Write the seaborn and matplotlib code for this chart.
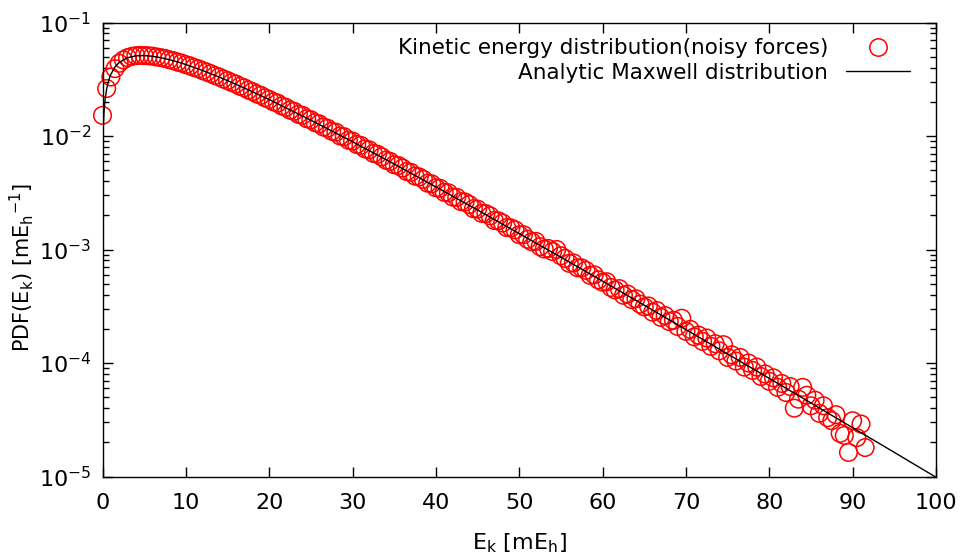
import matplotlib
matplotlib.use("Agg")
import matplotlib.pyplot as plt
import numpy as np
import pandas as pd
import seaborn as sns
from matplotlib.lines import Line2D
from matplotlib.ticker import LogLocator, MultipleLocator, NullFormatter

# histogram of kinetic energies (bin centres every 0.5 mE_h)
energy = np.arange(184) * 0.5
pdf = [
    0.0152, 0.0262, 0.0331, 0.0392, 0.0437, 0.0468, 0.0490, 0.0503, 0.0510, 0.0513,
    0.0511, 0.0509, 0.0505, 0.0497, 0.0490, 0.0482, 0.0470, 0.0461, 0.0448, 0.0439,
    0.0425, 0.0415, 0.0401, 0.0391, 0.0377, 0.0366, 0.0354, 0.0341, 0.0331, 0.0318,
    0.0308, 0.0296, 0.0287, 0.0274, 0.0266, 0.0254, 0.0246, 0.0235, 0.0228, 0.0217,
    0.0210,
    0.0200, 0.0195, 0.0184, 0.0179, 0.0169, 0.0165, 0.0155, 0.0152, 0.0142, 0.0139,
    0.0131, 0.0128, 0.0120, 0.0117, 0.0110, 0.0108, 0.0100, 0.00985, 0.00918, 0.00902,
    0.00842, 0.00826, 0.00770, 0.00754, 0.00702, 0.00690, 0.00655, 0.00612, 0.00598, 0.00558,
    0.00549, 0.00522, 0.00486, 0.00478, 0.00443, 0.00436, 0.00415, 0.00384, 0.00379, 0.00350,
    0.00346, 0.00319, 0.00316, 0.00290, 0.00288, 0.00264, 0.00262, 0.00249, 0.00229, 0.00227,
    0.00208, 0.00207, 0.00198, 0.00180, 0.00179, 0.00171, 0.00156, 0.00155, 0.00149, 0.00135,
    0.00135, 0.00123, 0.00117, 0.00118, 0.00106, 0.00101, 0.00102, 0.000960, 0.00100, 0.000880,
    0.000835, 0.000755, 0.000762, 0.000690, 0.000688, 0.000655, 0.000592, 0.000598, 0.000540, 0.000515,
    0.000520, 0.000463, 0.000440, 0.000452, 0.000395, 0.000405, 0.000362, 0.000368, 0.000330, 0.000312,
    0.000318, 0.000280, 0.000290, 0.000252, 0.000262, 0.000232, 0.000238, 0.000210, 0.000248, 0.000190,
    0.000198, 0.000170, 0.000176, 0.000155, 0.000166, 0.000140, 0.000148, 0.000128, 0.000145, 0.000112,
    0.000118, 0.000104, 0.000112, 0.0000920, 0.000100, 0.0000860, 0.0000920, 0.0000760, 0.0000800, 0.0000690,
    0.0000740, 0.0000610, 0.0000660, 0.0000550, 0.0000620, 0.0000400, 0.0000480, 0.0000610, 0.0000520, 0.0000420,
    0.0000470, 0.0000360, 0.0000420, 0.0000330, 0.0000310, 0.0000350, 0.0000240, 0.0000230, 0.0000163, 0.0000310,
    0.0000220, 0.0000290, 0.0000180,
]

# analytic Maxwell curve, sampled from the plot
maxwell_e = [1e-8, 1e-7, 1e-5, 0.001, 0.01, 0.05, 0.1, 0.2, 0.3, 0.5, 0.75, 1, 1.5, 2, 3, 4,
             5, 6, 7, 8, 9, 10, 12, 14, 16, 18, 20, 25, 30, 35, 40, 45, 50, 55, 60,
             65, 70, 75, 80, 85, 90, 95, 100]
maxwell_pdf = [3.9e-6, 1.228e-5, 1.228e-4, 0.001228, 0.00388, 0.00864, 0.01215, 0.01701,
               0.02061, 0.0260, 0.03107, 0.03494, 0.04059, 0.04445, 0.04897, 0.05087,
               0.05116, 0.05041, 0.04898, 0.04711, 0.04495, 0.04263, 0.03779, 0.03303,
               0.02858, 0.02453, 0.02092, 0.01378, 0.00890, 0.00566, 0.00356, 0.00223,
               0.00138, 0.000855, 0.000526, 0.000323, 0.000197, 0.000120, 0.0000732,
               0.0000444, 0.0000269, 0.00001631, 0.00000985]

hist_df = pd.DataFrame({"E": energy, "pdf": pdf})
curve_df = pd.DataFrame({"E": maxwell_e, "pdf": maxwell_pdf})

sns.set_style("ticks")
plt.rcParams["font.family"] = ["DejaVu Sans"]
plt.rcParams["mathtext.fontset"] = "dejavusans"
plt.rcParams["text.color"] = "black"
plt.rcParams["axes.labelcolor"] = "black"
plt.rcParams["xtick.color"] = "black"
plt.rcParams["ytick.color"] = "black"

fig = plt.figure(figsize=(9.62, 5.56), dpi=100)
ax = fig.add_axes([102.5 / 962, 1 - 476.5 / 556, 833.5 / 962, 454 / 556])

sns.scatterplot(data=hist_df, x="E", y="pdf", ax=ax, marker="o", s=160,
                facecolor="none", edgecolor="#ff0000", linewidth=1.1, zorder=2,
                clip_on=False)
sns.lineplot(data=curve_df, x="E", y="pdf", ax=ax, color="black", linewidth=1.0,
             sort=False, estimator=None, zorder=3)

ax.set_yscale("log")
ax.set_xlim(0, 100)
ax.set_ylim(1e-5, 1e-1)
ax.xaxis.set_major_locator(MultipleLocator(10))
ax.yaxis.set_major_locator(LogLocator(base=10, numticks=10))
ax.yaxis.set_minor_locator(LogLocator(base=10, subs=np.arange(2, 10), numticks=10))
ax.yaxis.set_minor_formatter(NullFormatter())
ax.tick_params(which="both", direction="in", top=True, right=True, labelsize=16,
               color="black", width=1.0)
ax.tick_params(which="major", length=7)
ax.tick_params(which="minor", length=4)
ax.tick_params(axis="x", which="major", pad=12)
ax.tick_params(axis="y", which="major", pad=8)
for sp in ax.spines.values():
    sp.set_linewidth(1.0)
    sp.set_color("black")

ax.set_xlabel(r"E$_\mathrm{k}$ [mE$_\mathrm{h}$]", fontsize=16, labelpad=13)
ax.set_ylabel(r"PDF(E$_\mathrm{k}$) [mE$_\mathrm{h}$$^\mathrm{-1}$]", fontsize=15, labelpad=9)
ax.yaxis.set_label_coords(-0.08, 0.46)

handles = [
    Line2D([], [], linestyle="none", marker="o", markersize=12.5, markerfacecolor="none",
           markeredgecolor="#ff0000", markeredgewidth=1.1),
    Line2D([], [], color="black", linewidth=1.0),
]
labels = ["Kinetic energy distribution(noisy forces)", "Analytic Maxwell distribution"]
ax.legend(handles, labels, loc="upper right", bbox_to_anchor=(1.0, 1.022),
          frameon=False, markerfirst=False, fontsize=15.5, handlelength=3.0,
          labelspacing=0.21, borderaxespad=0.8, handletextpad=0.8, alignment="right")

fig.savefig("out.png", dpi=100)
